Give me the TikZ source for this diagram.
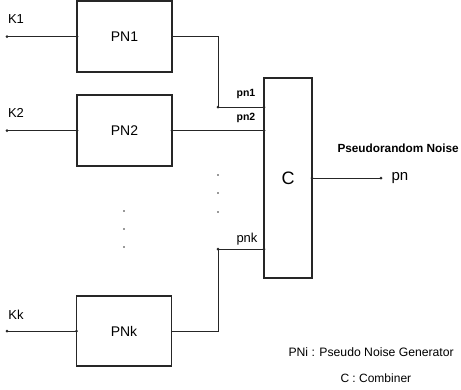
\documentclass[tikz,border=0pt]{standalone}
\usepackage{fontspec}
\setmainfont{Liberation Sans}
\begin{document}
\begin{tikzpicture}[x=1pt,y=-1pt,
  line width=1pt, draw=black!85,
  blk/.style={draw, line width=1.1pt, inner sep=0pt, outer sep=0pt, font=\fontsize{14}{16}\selectfont},
  lbl/.style={inner sep=0pt, font=\fontsize{13}{15}\selectfont},
  slbl/.style={inner sep=0pt, font=\bfseries\fontsize{10.5}{12}\selectfont},
  jdot/.style={circle, fill=black!85, inner sep=0pt, minimum size=3pt},
  vdot/.style={circle, fill=black!80, inner sep=0pt, minimum size=1.8pt}]
\useasboundingbox (0,0) rectangle (461,389);
% blocks
\node[blk, minimum width=95pt, minimum height=71pt] (pn1) at (124.5,36.5) {PN1};
\node[blk, minimum width=95pt, minimum height=71pt] (pn2) at (124.5,130.5) {PN2};
\node[blk, minimum width=95pt, minimum height=70pt] (pnk) at (124,331) {PNk};
\node[blk, minimum width=48pt, minimum height=200pt, font=\fontsize{18}{20}\selectfont] (C) at (288,178) {C};
% coordinates
\coordinate (k1) at (7,36.5);
\coordinate (k2) at (7,130.5);
\coordinate (kk) at (7,331);
\coordinate (c1) at (218,107);
\coordinate (ck) at (218,249);
\coordinate (out) at (381,178);
% connectors
\draw (k1) -- (k1 -| pn1.west);
\draw (k2) -- (k2 -| pn2.west);
\draw (kk) -- (kk -| pnk.west);
\draw (pn1.east) -| (c1) -- (c1 -| C.west);
\draw (pn2.east) -- (pn2.east -| C.west);
\draw (pnk.east) -| (ck) -- (ck -| C.west);
\draw (C.east) -- (out);
% junction dots
\foreach \p in {k1,k2,kk,c1,ck,out}{\node[jdot] at (\p) {};}
\node[jdot] at (k1 -| pn1.west) {};
\node[jdot] at (k2 -| pn2.west) {};
\node[jdot] at (kk -| pnk.west) {};
\node[jdot] at (pn2.east) {};
\node[jdot] at (c1 -| C.west) {};
\node[jdot] at (pn2.east -| C.west) {};
\node[jdot] at (ck -| C.west) {};
\node[jdot] at (C.east) {};
% ellipsis dots
\foreach \y in {175,193,212}{\node[vdot] at (218,\y) {};}
\foreach \y in {211,229,247}{\node[vdot] at (124,\y) {};}
% labels
\node[lbl] (lk1) at (16,19) {K1};
\node[lbl] (lk2) at (16,113) {K2};
\node[lbl] (lkk) at (16,315) {Kk};
\node[slbl] (lpn1) at (246,94) {pn1};
\node[slbl] (lpn2) at (246,118) {pn2};
\node[lbl] (lpnk) at (247,239) {pnk};
\node[lbl, anchor=west, font=\bfseries\fontsize{11.8}{13}\selectfont] (lpr) at (337,148) {Pseudorandom Noise};
\node[lbl, anchor=west, font=\fontsize{15}{17}\selectfont] (lpn) at (391,178) {pn};
\node[lbl, anchor=west, font=\fontsize{12.2}{14}\selectfont] (leg1) at (288,352) {PNi : Pseudo Noise Generator};
\node[lbl, anchor=west, font=\fontsize{12}{14}\selectfont] (leg2) at (340,378) {C : Combiner};
\end{tikzpicture}
\end{document}
